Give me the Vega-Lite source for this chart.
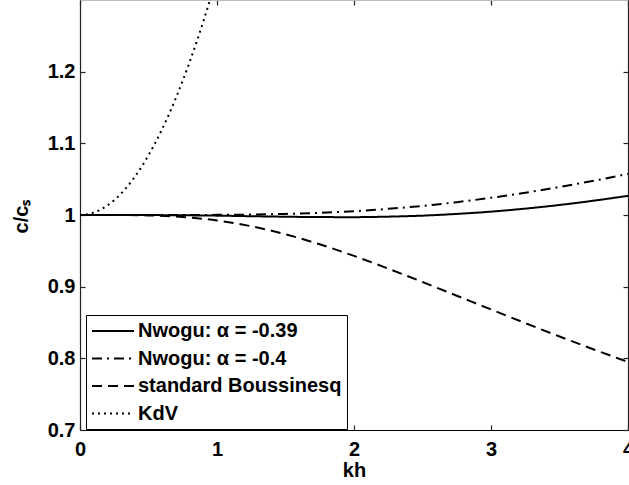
{
  "$schema": "https://vega.github.io/schema/vega-lite/v6.json",
  "autosize": "none",
  "width": 548,
  "height": 430,
  "padding": {"left": 80, "top": 0, "right": 1, "bottom": 55},
  "background": "white",
  "config": {
    "view": {"stroke": null},
    "font": "Liberation Sans",
    "axis": {
      "labelFont": "Liberation Sans",
      "labelFontSize": 20,
      "labelFontWeight": "bold",
      "labelColor": "black",
      "titleFont": "Liberation Sans",
      "titleFontSize": 20,
      "titleFontWeight": "bold",
      "titleColor": "black",
      "domainColor": "#222",
      "domainWidth": 1.2,
      "tickColor": "#222",
      "tickSize": -5,
      "tickWidth": 1.2,
      "grid": false,
      "labelFlush": false,
      "labelOverlap": false
    }
  },
  "data": {
    "values": [
      {"kh": 0, "v": 1, "s": "Nwogu: α = -0.39"},
      {"kh": 0.25, "v": 1.0000, "s": "Nwogu: α = -0.39"},
      {"kh": 0.5, "v": 0.9999, "s": "Nwogu: α = -0.39"},
      {"kh": 0.75, "v": 0.9996, "s": "Nwogu: α = -0.39"},
      {"kh": 1, "v": 0.9991, "s": "Nwogu: α = -0.39"},
      {"kh": 1.25, "v": 0.9983, "s": "Nwogu: α = -0.39"},
      {"kh": 1.5, "v": 0.9976, "s": "Nwogu: α = -0.39"},
      {"kh": 1.75, "v": 0.9971, "s": "Nwogu: α = -0.39"},
      {"kh": 2, "v": 0.9970, "s": "Nwogu: α = -0.39"},
      {"kh": 2.25, "v": 0.9977, "s": "Nwogu: α = -0.39"},
      {"kh": 2.5, "v": 0.9991, "s": "Nwogu: α = -0.39"},
      {"kh": 2.75, "v": 1.0015, "s": "Nwogu: α = -0.39"},
      {"kh": 3, "v": 1.0047, "s": "Nwogu: α = -0.39"},
      {"kh": 3.25, "v": 1.0089, "s": "Nwogu: α = -0.39"},
      {"kh": 3.5, "v": 1.0140, "s": "Nwogu: α = -0.39"},
      {"kh": 3.75, "v": 1.0200, "s": "Nwogu: α = -0.39"},
      {"kh": 4, "v": 1.0267, "s": "Nwogu: α = -0.39"},
      {"kh": 0, "v": 1, "s": "Nwogu: α = -0.4"},
      {"kh": 0.25, "v": 1.0000, "s": "Nwogu: α = -0.4"},
      {"kh": 0.5, "v": 1.0000, "s": "Nwogu: α = -0.4"},
      {"kh": 0.75, "v": 1.0000, "s": "Nwogu: α = -0.4"},
      {"kh": 1, "v": 1.0002, "s": "Nwogu: α = -0.4"},
      {"kh": 1.25, "v": 1.0006, "s": "Nwogu: α = -0.4"},
      {"kh": 1.5, "v": 1.0015, "s": "Nwogu: α = -0.4"},
      {"kh": 1.75, "v": 1.0030, "s": "Nwogu: α = -0.4"},
      {"kh": 2, "v": 1.0053, "s": "Nwogu: α = -0.4"},
      {"kh": 2.25, "v": 1.0086, "s": "Nwogu: α = -0.4"},
      {"kh": 2.5, "v": 1.0127, "s": "Nwogu: α = -0.4"},
      {"kh": 2.75, "v": 1.0179, "s": "Nwogu: α = -0.4"},
      {"kh": 3, "v": 1.0240, "s": "Nwogu: α = -0.4"},
      {"kh": 3.25, "v": 1.0311, "s": "Nwogu: α = -0.4"},
      {"kh": 3.5, "v": 1.0391, "s": "Nwogu: α = -0.4"},
      {"kh": 3.75, "v": 1.0478, "s": "Nwogu: α = -0.4"},
      {"kh": 4, "v": 1.0573, "s": "Nwogu: α = -0.4"},
      {"kh": 0, "v": 1, "s": "standard Boussinesq"},
      {"kh": 0.25, "v": 1.0000, "s": "standard Boussinesq"},
      {"kh": 0.5, "v": 0.9994, "s": "standard Boussinesq"},
      {"kh": 0.75, "v": 0.9972, "s": "standard Boussinesq"},
      {"kh": 1, "v": 0.9924, "s": "standard Boussinesq"},
      {"kh": 1.25, "v": 0.9843, "s": "standard Boussinesq"},
      {"kh": 1.5, "v": 0.9731, "s": "standard Boussinesq"},
      {"kh": 1.75, "v": 0.9591, "s": "standard Boussinesq"},
      {"kh": 2, "v": 0.9429, "s": "standard Boussinesq"},
      {"kh": 2.25, "v": 0.9252, "s": "standard Boussinesq"},
      {"kh": 2.5, "v": 0.9065, "s": "standard Boussinesq"},
      {"kh": 2.75, "v": 0.8874, "s": "standard Boussinesq"},
      {"kh": 3, "v": 0.8682, "s": "standard Boussinesq"},
      {"kh": 3.25, "v": 0.8492, "s": "standard Boussinesq"},
      {"kh": 3.5, "v": 0.8305, "s": "standard Boussinesq"},
      {"kh": 3.75, "v": 0.8124, "s": "standard Boussinesq"},
      {"kh": 4, "v": 0.7950, "s": "standard Boussinesq"},
      {"kh": 0, "v": 1, "s": "KdV"},
      {"kh": 0.05, "v": 1.0008, "s": "KdV"},
      {"kh": 0.1, "v": 1.0033, "s": "KdV"},
      {"kh": 0.15, "v": 1.0075, "s": "KdV"},
      {"kh": 0.2, "v": 1.0133, "s": "KdV"},
      {"kh": 0.25, "v": 1.0208, "s": "KdV"},
      {"kh": 0.3, "v": 1.03, "s": "KdV"},
      {"kh": 0.35, "v": 1.0408, "s": "KdV"},
      {"kh": 0.4, "v": 1.0533, "s": "KdV"},
      {"kh": 0.45, "v": 1.0675, "s": "KdV"},
      {"kh": 0.5, "v": 1.0833, "s": "KdV"},
      {"kh": 0.55, "v": 1.1008, "s": "KdV"},
      {"kh": 0.6, "v": 1.12, "s": "KdV"},
      {"kh": 0.65, "v": 1.1408, "s": "KdV"},
      {"kh": 0.7, "v": 1.1633, "s": "KdV"},
      {"kh": 0.75, "v": 1.1875, "s": "KdV"},
      {"kh": 0.8, "v": 1.2133, "s": "KdV"},
      {"kh": 0.85, "v": 1.2408, "s": "KdV"},
      {"kh": 0.9, "v": 1.27, "s": "KdV"},
      {"kh": 0.95, "v": 1.3008, "s": "KdV"},
      {"kh": 1.0, "v": 1.3333, "s": "KdV"}
    ]
  },
  "layer": [
    {
      "mark": {"type": "line", "color": "black", "strokeWidth": 2, "clip": true, "interpolate": "monotone"},
      "encoding": {
        "x": {
          "field": "kh", "type": "quantitative",
          "scale": {"domain": [0, 4], "nice": false, "zero": false},
          "axis": {"orient": "bottom", "values": [0, 1, 2, 3, 4], "title": "kh", "labelPadding": 14, "titleY": 46, "titleBaseline": "alphabetic", "domainColor": "black"}
        },
        "y": {
          "field": "v", "type": "quantitative",
          "scale": {"domain": [0.7, 1.3], "nice": false, "zero": false},
          "axis": {"orient": "left", "values": [0.7, 0.8, 0.9, 1, 1.1, 1.2], "format": "~g", "title": "c/cₛ", "labelPadding": 10, "titleX": -53, "titleY": 216, "titleBaseline": "alphabetic", "titleAngle": 270}
        },
        "detail": {"field": "s"},
        "strokeDash": {
          "field": "s", "type": "nominal",
          "scale": {
            "domain": ["Nwogu: α = -0.39", "Nwogu: α = -0.4", "standard Boussinesq", "KdV"],
            "range": [[1, 0], [10, 5, 2, 5], [10, 6], [2, 4]]
          },
          "legend": {
            "orient": "none",
            "legendX": 6,
            "legendY": 315,
            "title": null,
            "fillColor": "white",
            "strokeColor": "black",
            "padding": 5,
            "symbolType": "M-1,0L3.2,0",
            "symbolSize": 400,
            "symbolStrokeWidth": 2,
            "symbolStrokeColor": "black",
            "labelFont": "Liberation Sans",
            "labelFontSize": 20,
            "labelFontWeight": "bold",
            "labelColor": "black",
            "labelOffset": 25,
            "labelLimit": 400,
            "rowPadding": 6.5
          }
        }
      }
    },
    {
      "mark": {"type": "point", "opacity": 0},
      "encoding": {
        "x": {
          "field": "kh", "type": "quantitative",
          "axis": {"orient": "top", "values": [0, 1, 2, 3, 4], "labels": false, "title": null, "domainColor": "#bbb"}
        },
        "y": {
          "field": "v", "type": "quantitative",
          "axis": {"orient": "right", "values": [0.7, 0.8, 0.9, 1, 1.1, 1.2], "labels": false, "title": null}
        }
      }
    }
  ],
  "resolve": {"axis": {"x": "independent", "y": "independent"}}
}
